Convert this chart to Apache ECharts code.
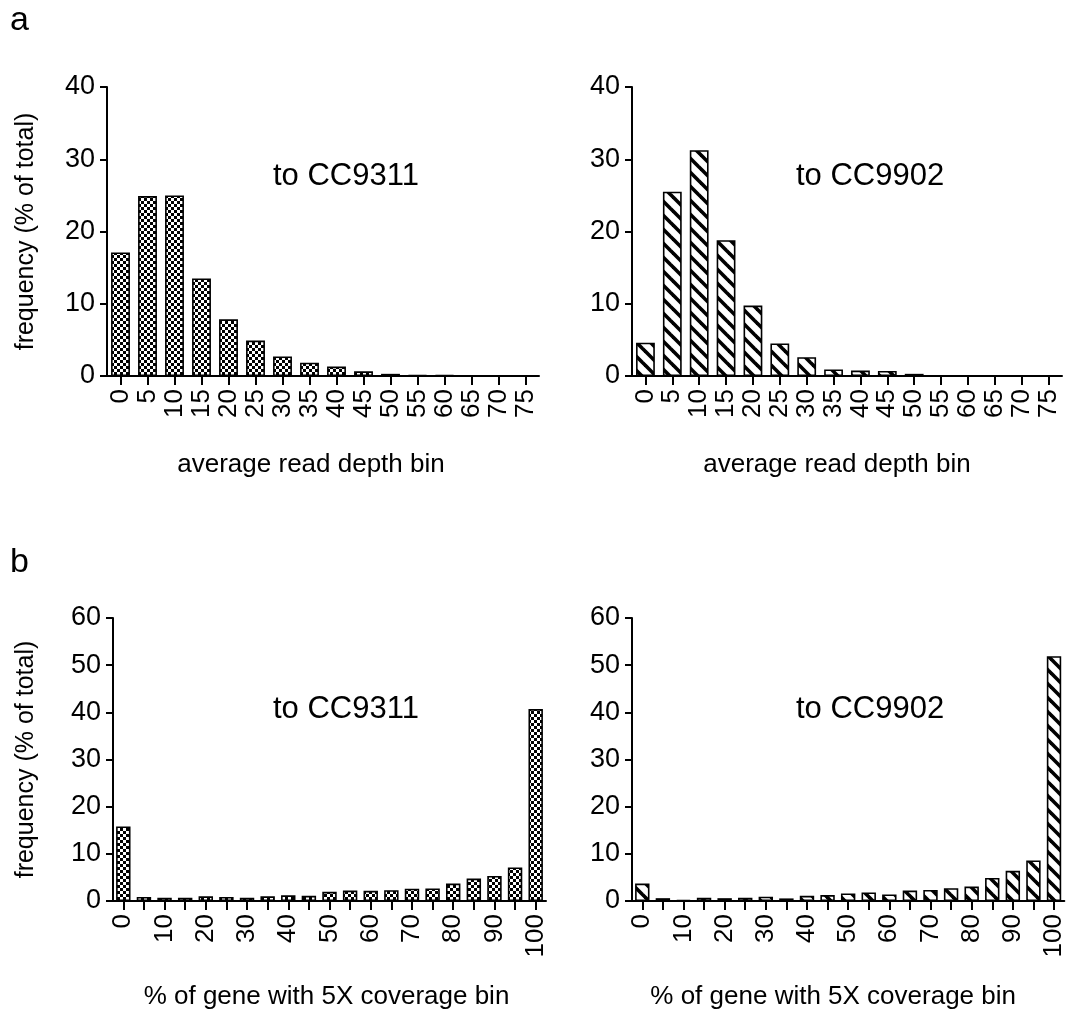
<!DOCTYPE html>
<html>
<head>
<meta charset="utf-8">
<script src="https://cdn.jsdelivr.net/npm/echarts@6/dist/echarts.min.js"></script>
<style>
html,body{margin:0;padding:0;background:#fff;}
#chart{width:1067px;height:1011px;}
</style>
</head>
<body>
<div id="chart"></div>
<script>
// ---- data ----
const depthBins = ["0","5","10","15","20","25","30","35","40","45","50","55","60","65","70","75"];
const depthCC9311 = [17.1, 24.9, 25.0, 13.5, 7.85, 4.9, 2.7, 1.85, 1.3, 0.65, 0.3, 0.1, 0.1, 0.05, 0, 0];
const depthCC9902 = [4.6, 25.5, 31.25, 18.8, 9.75, 4.5, 2.6, 0.9, 0.75, 0.7, 0.3, 0.05, 0.05, 0, 0.05, 0];
const coverageBins = ["0","5","10","15","20","25","30","35","40","45","50","55","60","65","70","75","80","85","90","95","100"];
const coverageCC9311 = [15.8, 0.85, 0.7, 0.7, 1.0, 0.85, 0.7, 1.0, 1.2, 1.1, 1.95, 2.2, 2.15, 2.3, 2.6, 2.65, 3.7, 4.75, 5.3, 7.1, 40.7];
const coverageCC9902 = [3.7, 0.6, 0.2, 0.7, 0.6, 0.7, 0.9, 0.55, 1.1, 1.25, 1.6, 1.8, 1.4, 2.2, 2.35, 2.7, 3.05, 4.9, 6.4, 8.6, 51.9];
const depthTicks = [0, 10, 20, 30, 40];
const coverageTicks = [0, 10, 20, 30, 40, 50, 60];

// ---- patterns ----
function checkerPattern() {
  const c = document.createElement('canvas');
  c.width = 6; c.height = 6;
  const g = c.getContext('2d');
  g.fillStyle = '#fff'; g.fillRect(0, 0, 6, 6);
  g.fillStyle = '#000';
  g.fillRect(0, 0, 3, 3);
  g.fillRect(3, 3, 3, 3);
  return c;
}
function stripePattern() {
  const s = 14;
  const c = document.createElement('canvas');
  c.width = s; c.height = s;
  const g = c.getContext('2d');
  g.fillStyle = '#fff'; g.fillRect(0, 0, s, s);
  g.strokeStyle = '#000'; g.lineWidth = 3.6; g.lineCap = 'square';
  for (let k = -1; k <= 1; k++) {
    g.beginPath();
    g.moveTo(k * s - 2, -2);
    g.lineTo(k * s + s + 2, s + 2);
    g.stroke();
  }
  return c;
}
const checker = { image: checkerPattern(), repeat: 'repeat' };
const stripes = { image: stripePattern(), repeat: 'repeat' };

const FONT = 'Liberation Sans, Arial, Helvetica, sans-serif';
const gridsPos = [
  { left: 107, top: 87, width: 432, height: 289 },
  { left: 632, top: 87, width: 430, height: 289 },
  { left: 113, top: 618, width: 433, height: 288 },
  { left: 632, top: 618, width: 433, height: 288 }
];

function xAxis(idx, cats, name, labelInterval, gap, shiftLeft) {
  return {
    type: 'category', gridIndex: idx, data: cats,
    name: name, nameLocation: 'middle', nameGap: gap,
    nameTextStyle: { fontFamily: FONT, fontSize: 26, color: '#000', padding: [0, shiftLeft * 2, 0, 0] },
    axisLine: { lineStyle: { color: '#000', width: 2 } },
    axisTick: { show: true, alignWithLabel: true, interval: 0, length: 9, lineStyle: { color: '#000', width: 2 } },
    axisLabel: { rotate: 90, interval: labelInterval, margin: 13, fontFamily: FONT, fontSize: 26, color: '#000' },
    splitLine: { show: false }
  };
}
function yAxis(idx, ticks, name, gap) {
  return {
    type: 'value', gridIndex: idx, min: ticks[0], max: ticks[ticks.length - 1], interval: ticks[1] - ticks[0],
    name: name, nameLocation: 'middle', nameGap: gap, nameRotate: 90,
    nameTextStyle: { fontFamily: FONT, fontSize: 25, color: '#000' },
    axisLine: { show: true, lineStyle: { color: '#000', width: 2 } },
    axisTick: { show: true, length: 7, lineStyle: { color: '#000', width: 2 } },
    axisLabel: { margin: 12, fontFamily: FONT, fontSize: 27, color: '#000' },
    splitLine: { show: false }
  };
}
function barSeries(idx, data, pattern) {
  return {
    type: 'bar', xAxisIndex: idx, yAxisIndex: idx, data: data,
    barCategoryGap: '30%',
    itemStyle: { color: pattern, borderColor: '#000', borderWidth: 1.6 },
    emphasis: { disabled: true },
    animation: false
  };
}
function label(text, x, y, size) {
  return { type: 'text', left: x, top: y, style: { text: text, fontFamily: FONT, fontSize: size, fill: '#000' } };
}

const chart = echarts.init(document.getElementById('chart'), null, { renderer: 'canvas' });
chart.setOption({
  backgroundColor: '#fff',
  animation: false,
  grid: gridsPos,
  xAxis: [
    xAxis(0, depthBins, 'average read depth bin', 0, 76, 12),
    xAxis(1, depthBins, 'average read depth bin', 0, 76, 10),
    xAxis(2, coverageBins, '% of gene with 5X coverage bin', 1, 83, 3),
    xAxis(3, coverageBins, '% of gene with 5X coverage bin', 1, 83, 15)
  ],
  yAxis: [
    yAxis(0, depthTicks, 'frequency (% of total)', 68),
    yAxis(1, depthTicks, '', 50),
    yAxis(2, coverageTicks, 'frequency (% of total)', 74),
    yAxis(3, coverageTicks, '', 50)
  ],
  series: [
    barSeries(0, depthCC9311, checker),
    barSeries(1, depthCC9902, stripes),
    barSeries(2, coverageCC9311, checker),
    barSeries(3, coverageCC9902, stripes)
  ],
  graphic: [
    label('a', 10, 4, 34),
    label('b', 10, 546, 34),
    label('to CC9311', 273, 161, 31),
    label('to CC9902', 796, 161, 31),
    label('to CC9311', 273, 694, 31),
    label('to CC9902', 796, 694, 31)
  ]
});
</script>
</body>
</html>
